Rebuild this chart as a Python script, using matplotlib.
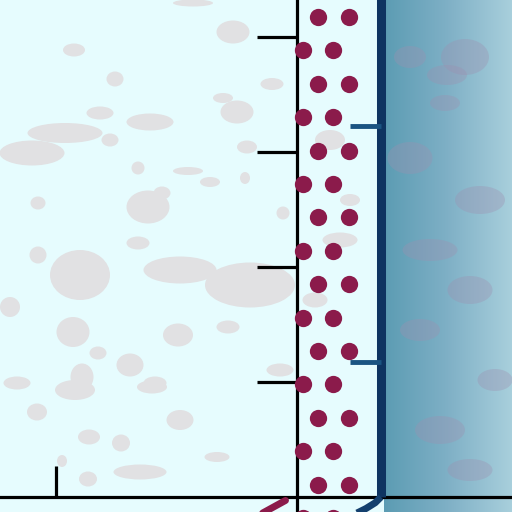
import numpy as np
import matplotlib
matplotlib.use("Agg")
import matplotlib.pyplot as plt
from matplotlib.patches import Ellipse
from matplotlib.colors import LinearSegmentedColormap

# ---- data (chart units) ----
y_ticks = [1, 2, 3, 4]
x_ticks = [-2.1]
bar_left = 0.0
bar_right = 0.73
bar_top = 4.6
blue_ticks = [1.17, 3.23]
# fragments of neighbouring marks below the x axis
blue_curve_x = [0.73, 0.68, 0.60, 0.52]
blue_curve_y = [0.0, -0.05, -0.10, -0.14]
red_frag_x = [-0.30, -0.10]
red_frag_y = [-0.14, -0.03]

# ---- background texture (pixel space, decoration only) ----
blob_x = [65, 32, 150, 100, 233, 74, 115, 237, 223, 272, 247, 138, 188, 193, 110, 245, 162, 210,
          148, 80, 180, 250, 10, 73, 178, 228, 138, 38, 38, 130, 82, 17, 98, 283, 280, 155,
          152, 75, 37, 180, 89, 121, 140, 88, 217, 62, 330, 340, 315, 350]
blob_y = [133, 153, 122, 113, 32, 50, 79, 112, 98, 84, 147, 168, 171, 3, 140, 178, 193, 182,
          207, 275, 270, 285, 307, 332, 335, 327, 243, 255, 203, 365, 377, 383, 353, 213, 370, 383,
          387, 390, 412, 420, 437, 443, 472, 479, 457, 461, 140, 240, 300, 200]
blob_w = [75, 65, 47, 27, 33, 22, 17, 33, 20, 23, 20, 13, 30, 40, 17, 10, 17, 20,
          43, 60, 73, 90, 20, 33, 30, 23, 23, 17, 15, 27, 23, 27, 17, 13, 27, 23,
          30, 40, 20, 27, 22, 18, 53, 18, 25, 10, 30, 35, 25, 20]
blob_h = [20, 25, 17, 13, 23, 13, 15, 23, 10, 12, 13, 13, 8, 7, 13, 12, 13, 10,
          33, 50, 27, 45, 20, 30, 23, 13, 13, 17, 13, 23, 27, 13, 13, 13, 13, 13,
          13, 20, 17, 20, 15, 17, 15, 15, 10, 12, 20, 15, 15, 12]
mauve_x = [465, 447, 445, 410, 410, 480, 430, 470, 420, 495, 440, 470]
mauve_y = [57, 75, 103, 57, 158, 200, 250, 290, 330, 380, 430, 470]
mauve_w = [48, 40, 30, 32, 45, 50, 55, 45, 40, 35, 50, 45]
mauve_h = [36, 20, 16, 22, 32, 28, 22, 28, 22, 22, 28, 22]

fig = plt.figure(figsize=(5.12, 5.12), dpi=100)
bg = fig.add_axes([0, 0, 1, 1])
bg.set_xlim(0, 512)
bg.set_ylim(512, 0)
bg.axis("off")
bg.add_patch(plt.Rectangle((0, 0), 512, 512, color="#e6fcfe", zorder=0))
for x, y, w, h in zip(blob_x, blob_y, blob_w, blob_h):
    bg.add_patch(Ellipse((x, y), w, h, color="#e1e1e3", zorder=1, lw=0))
cmap = LinearSegmentedColormap.from_list("g", ["#5c9cb3", "#7fb0c6", "#a8cfdc"])
grad = np.linspace(0, 1, 128)[None, :]
bg.imshow(grad, cmap=cmap, extent=[384, 512, 512, 0], aspect="auto", zorder=2)
for x, y, w, h in zip(mauve_x, mauve_y, mauve_w, mauve_h):
    bg.add_patch(Ellipse((x, y), w, h, color="#9d90b0", alpha=0.35, zorder=3, lw=0))

# ---- data axes ----
ax = fig.add_axes([0, 0, 1, 1])
ax.patch.set_alpha(0)
ax.set_xlim(-297 / 115, 215 / 115)
ax.set_ylim(-15 / 115, 497 / 115)
for s in ["top", "right"]:
    ax.spines[s].set_visible(False)
ax.spines["left"].set_position(("data", 0))
ax.spines["bottom"].set_position(("data", 0))
ax.spines["left"].set_linewidth(2.3)
ax.spines["bottom"].set_linewidth(2.3)
ax.set_yticks(y_ticks)
ax.set_xticks(x_ticks)
ax.set_yticklabels([])
ax.set_xticklabels([])
ax.tick_params(axis="y", direction="out", length=29, width=2.3, color="black")
ax.tick_params(axis="x", direction="in", length=22, width=2.3, color="black")

# dotted bar texture (hatch-like pattern)
row_step = 0.2905
rows = np.arange(4.174, -0.3, -row_step)
dx, dy = [], []
for i, ry in enumerate(rows):
    cols = [0.183, 0.452] if i % 2 == 0 else [0.052, 0.313]
    for cx in cols:
        dx.append(cx)
        dy.append(ry)
ax.scatter(dx, dy, s=155, color="#8b1b4b", zorder=3, lw=0, clip_on=True)

# blue bar edge and ticks
ax.vlines(bar_right, 0, bar_top, color="#0e3461", lw=6.5, zorder=4)
ax.plot(blue_curve_x, blue_curve_y, color="#14406e", lw=5, zorder=4, solid_capstyle="butt")
ax.hlines(blue_ticks, bar_right - 0.27, bar_right, color="#1a5482", lw=3.5, zorder=4)
ax.plot(red_frag_x, red_frag_y, color="#8b1b4b", lw=5, zorder=4, solid_capstyle="round")

fig.savefig("out.png", dpi=100)
